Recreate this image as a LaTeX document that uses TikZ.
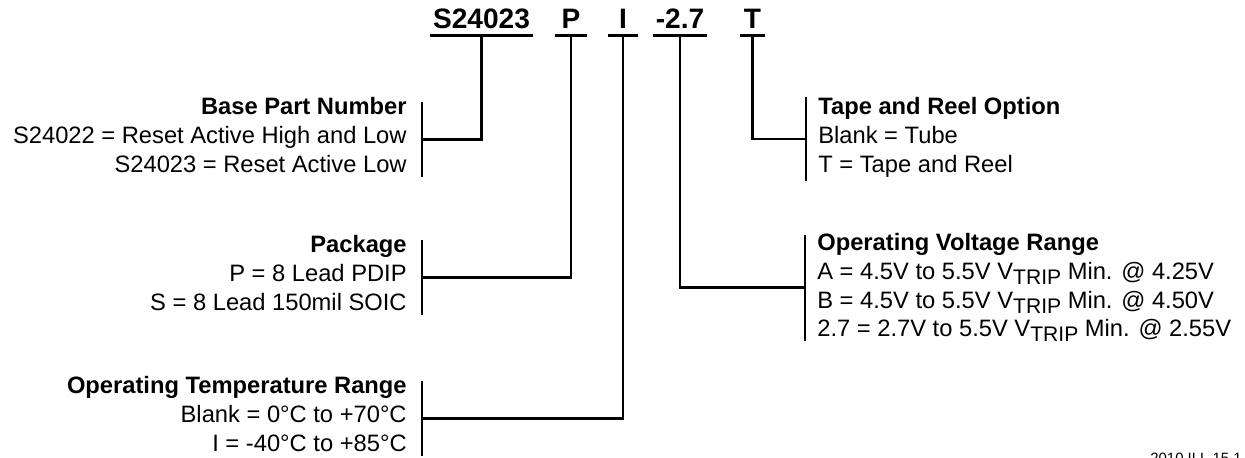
\documentclass[tikz,border=0pt]{standalone}
\usepackage{fontspec}
\setmainfont{Liberation Sans}
\usetikzlibrary{calc}
\tikzset{
  code/.style={font=\fontsize{16}{19}\selectfont\bfseries, anchor=base, inner xsep=0pt, inner ysep=4pt, text depth=0pt},
  desc/.style={font=\fontsize{13.5}{16.4}\selectfont, inner sep=0pt},
  lead/.style={line width=1.3pt},
}
\newcommand{\vtrip}{V\raisebox{-2.8pt}{\fontsize{12}{14}\selectfont TRIP}}

\begin{document}
\begin{tikzpicture}[x=0.02cm, y=-0.02cm]
  \useasboundingbox (0,0) rectangle (1245,457);
  % ordering code
  \node[code, minimum width=58pt] (cBase) at (481.5,28) {S24023};
  \node[code, minimum width=18pt] (cPkg) at (571,28) {P};
  \node[code, minimum width=17pt] (cTemp) at (623,28) {I};
  \node[code, minimum width=30.6pt] (cVolt) at (680,28) {-2.7};
  \node[code, minimum width=14pt] (cReel) at (752.5,28) {T};
  \foreach \c in {cBase,cPkg,cTemp,cVolt,cReel}
    \draw[lead] (\c.south west) -- (\c.south east);
  % left column
  \node[desc, anchor=north east, align=right] (dBase) at (407,97)
    {\textbf{Base Part Number}\\S24022 = Reset Active High and Low\\S24023 = Reset Active Low};
  \node[desc, anchor=north east, align=right] (dPkg) at (407,235)
    {\textbf{Package}\\P = 8 Lead PDIP\\S = 8 Lead 150mil SOIC};
  \node[desc, anchor=north east, align=right] (dTemp) at (407,376)
    {\textbf{Operating Temperature Range}\\Blank = 0°C to +70°C\\I = -40°C to +85°C};
  % right column
  \node[desc, anchor=north west, align=left] (dReel) at (818,97)
    {\textbf{Tape and Reel Option}\\Blank = Tube\\T = Tape and Reel};
  \node[desc, anchor=north west, align=left] (dVolt) at (817,233)
    {\textbf{Operating Voltage Range}\\A = 4.5V to 5.5V \vtrip{} Min. @ 4.25V\\B = 4.5V to 5.5V \vtrip{} Min. @ 4.50V\\2.7 = 2.7V to 5.5V \vtrip{} Min. @ 2.55V};
  % brackets and leaders
  \draw[lead] ([xshift=8.5pt,yshift=-2.8pt]dBase.north east) coordinate (b1)
    -- ([xshift=8.5pt,yshift=-2.3pt]dBase.south east) coordinate (b2);
  \draw[lead] ($(b1)!0.5!(b2)$) -| (cBase.south);
  \draw[lead] ([xshift=8.5pt,yshift=-2.8pt]dPkg.north east) coordinate (p1)
    -- ([xshift=8.5pt,yshift=-2.3pt]dPkg.south east) coordinate (p2);
  \draw[lead] ($(p1)!0.5!(p2)$) -| (cPkg.south);
  \draw[lead] ([xshift=8.5pt,yshift=-2.8pt]dTemp.north east) coordinate (t1)
    -- ([xshift=8.5pt,yshift=-2.3pt]dTemp.south east) coordinate (t2);
  \draw[lead] ($(t1)!0.5!(t2)$) -| (cTemp.south);
  \draw[lead] ([xshift=-6.8pt,yshift=0pt]dReel.north west) coordinate (r1)
    -- ([xshift=-6.8pt,yshift=-2.3pt]dReel.south west) coordinate (r2);
  \draw[lead] ($(r1)!0.5!(r2)$) -| (cReel.south);
  \draw[lead] ([xshift=-6.8pt,yshift=-1pt]dVolt.north west) coordinate (v1)
    -- ([xshift=-6.8pt,yshift=1pt]dVolt.south west) coordinate (v2);
  \draw[lead] ($(v1)!0.5!(v2)$) -| (cVolt.south);
  % figure tag
  \node[font=\fontsize{8.5}{10}\selectfont, anchor=base west, inner sep=0pt] (tag) at (1150,463) {2010 ILL 15.1};
\end{tikzpicture}
\end{document}
